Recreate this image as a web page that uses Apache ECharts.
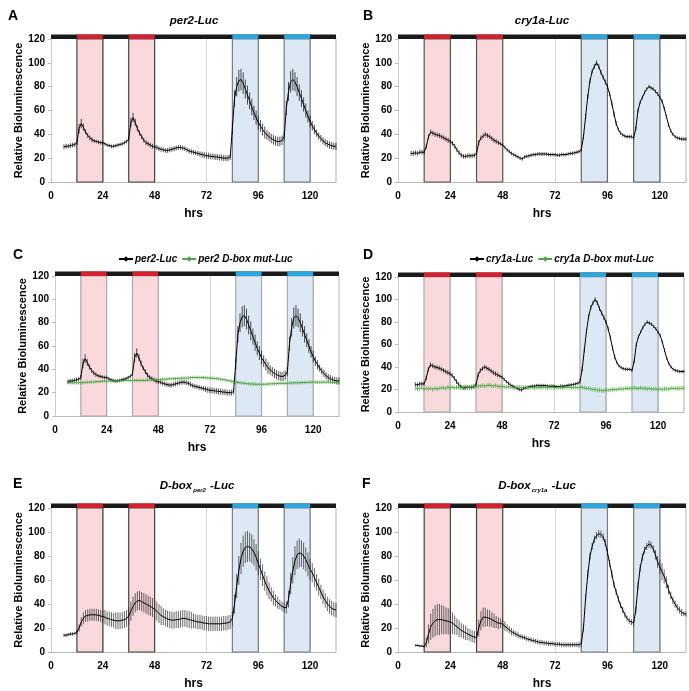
<!DOCTYPE html>
<html><head><meta charset="utf-8">
<script src="https://cdn.jsdelivr.net/npm/echarts@6/dist/echarts.min.js"></script>
<style>html,body{margin:0;padding:0;background:#fff}#c{width:689px;height:691px}</style>
</head><body><div id="c"></div>
<script>
// ---------- data ----------
const xTicks = [0, 24, 48, 72, 96, 120];
const yTicks = [0, 20, 40, 60, 80, 100, 120];
const redPulses = [[12, 24], [36, 48]];
const bluePulses = [[84, 96], [108, 120]];

// per2-Luc, hourly from 6 h
const per2Start = 6;
const per2 = [
  29.5,30,30,30.5,31,31.5,33,45,49,46,
  42,39,37,35.5,34.5,34,33.5,33,33,32,
  31,30.5,30,30,30.5,31,31.5,32,33,34,
  36,50,54,50,45,41,38,35,33,32,
  31,30,29.5,29,28,27.5,27,26.5,26.5,27,
  27.5,28,28.5,29,29,28.5,28,27,26,25.5,
  25,24.5,24,23.5,23,22.5,22,22,21.5,21.5,
  21,21,20.5,20.5,20,20,20,21,45,70,
  80,85,86,83,78,73,68,63,58,54,
  50,47,44,41.5,39.5,38,36.5,35.5,34.5,34,
  34,35,38,62,76,84,86,84,80,75,
  70,65,60,55,51,47,44,41,38.5,36.5,
  34.5,33,32,31,30.5,30,30];
const per2Err = [
  2,2,2,2,2,2,2,4,4,3,
  2,2,2,2,1.5,1.5,1.5,1.5,1.5,1.5,
  1.5,1.5,1.5,1.5,1.5,1.5,1.5,1.5,1.5,1.5,
  2,4,4,3,2.5,2,2,2,2,2,
  2,2,2,2,2,2,2,2,2,2,
  2,2,2,2,2,2,2,2,2,2,
  2,2,2,2,2.5,2.5,2.5,2.5,2.5,2.5,
  2.5,2.5,2.5,2.5,2.5,2.5,2.5,2.5,5,7,
  8,9,9,9,8,8,7,7,6,6,
  6,5,5,5,4,4,4,4,4,4,
  4,4,4,6,8,9,9,8,8,7,
  7,6,6,5,5,4,4,3,3,3,
  3,3,3,3,3,3,3];

// cry1a-Luc, hourly from 6 h
const cry1aStart = 6;
const cry1a = [
  24,24,24.5,24,25,25,25,30,38,42,
  41,40,39.5,39,38,37,36,35,34,32.5,
  30,27,24.5,22.5,21.5,21.5,22,22,22,22.5,
  24,33,37,38.5,40,39,38,36.5,35,34,
  33,32,31,29,27,25.5,24,23,22,21,
  20,19.5,21,21.5,22,22.5,23,23,23.5,23.5,
  23.5,23.5,23.5,23,23,23,23,22.5,22.5,23,
  23,23,23.5,24,24,24.5,25,25.5,27,38,
  55,72,85,93,97,100,97,92,88,84,
  80,74,66,57,49,44,41,39.5,38.5,38,
  38,38,37,45,60,67,71,75,78,80,
  79,78,76,74,71,68,62,55,48,43,
  40,38,37,36.5,36,36,36];
const cry1aErr = [
  2,2,2,2,2,2,2,2,2,2,
  2,2,2,2,2,2,2,2,2,2,
  2,2,2,2,2,2,2,2,2,2,
  2,2,2,2,2,2,2,2,2,2,
  2,1.5,1.5,1.5,1.5,1.5,1.5,1.5,1.5,1.5,
  1.5,1.5,1.5,1.5,1.5,1.5,1.5,1.5,1.5,1.5,
  1.5,1.5,1.5,1.5,1.5,1.5,1.5,1.5,1.5,1.5,
  1.5,1.5,1.5,1.5,1.5,1.5,1.5,1.5,2,2,
  2,2,2,2,2,2,2,2,2,2,
  2,2,2,2,2,1.5,1.5,1.5,1.5,1.5,
  1.5,1.5,1.5,1.5,1.5,1.5,1.5,1.5,1.5,1.5,
  1.5,1.5,1.5,1.5,1.5,1.5,1.5,1.5,1.5,1.5,
  1.5,1.5,1.5,1.5,1.5,1.5,1.5];

// per2 D-box mut-Luc, hourly from 6 h
const per2MutStart = 6;
const per2Mut = [
  28.5,28.5,28.5,28.5,28.5,28.5,28.5,28.5,28.8,29,
  29,29,29.2,29.4,29.5,29.6,29.8,30,30,30,
  30,30,30,30,30,30.2,30.4,30.5,30.5,30.5,
  30.5,30.5,30.5,30.5,30.5,30.5,30.6,30.8,31,31,
  31,31,31,31.2,31.4,31.5,31.6,31.8,32,32,
  32,32.2,32.3,32.5,32.5,32.5,32.6,32.8,33,33,
  33,33,33,33,32.8,32.6,32.5,32.4,32.2,32,
  31.8,31.5,31.2,31,30.6,30.2,29.8,29.4,29,28.8,
  28.5,28.2,28,27.8,27.6,27.5,27.4,27.3,27.2,27.2,
  27.2,27.2,27.3,27.4,27.5,27.6,27.7,27.8,27.9,28,
  28,28,28.1,28.2,28.3,28.4,28.5,28.5,28.5,28.6,
  28.7,28.8,28.9,29,29,29,29,29,29,29,
  29,29,29,29,29,29,29];
const per2MutErr = 1.5;

// cry1a D-box mut-Luc, hourly from 8 h
const cry1aMutStart = 8;
const cry1aMut = [
  21,20.5,21,21.5,20,21,20.5,21,20,21,
  20.5,21,21.5,21.5,21,22,21.5,22,21.5,22,
  22,21.5,22,22.5,22,22,22.5,23,22.5,23,
  23,23.5,23,23.5,24,23.5,23,23.5,23,22.5,
  23,22.5,22,22.5,22,22,21.5,22,22,21.5,
  22,22,21.5,22,22,21.5,22,22,21.5,22,
  22,21.5,22,22,21.5,22,22,22,21.5,22,
  22,22,21.5,22,22,21.5,22,22,21.5,21,
  21,20.5,20,20,19.5,19.5,19,19,19.5,19.5,
  19.5,20,20,20,20.5,20.5,20.5,21,21,21,
  21,21.5,21,21,21.5,21,21,20.5,21,20.5,
  20.5,20.5,20,20.5,20,20.5,20.5,20.5,21,21,
  21,21,21,21,21.5];
const cry1aMutErr = 2;

// D-box(per2)-Luc, hourly from 6 h
const dboxPer2Start = 6;
const dboxPer2 = [
  14,14,14.5,15,15,15.5,16.5,20,25,28,
  30,30.5,31,31,31,31,30.5,30,29.5,29,
  28,27.5,27,26.5,26,26,26,26.5,27,28,
  30,34,38,41,42.5,43,42,41,40,39,
  38,37,35.5,34,32,30.5,29.5,28.5,27.5,27,
  26.5,26.5,27,27,27.5,28,28,27.5,27,26.5,
  26,25.5,25,25,24.5,24,24,23.5,23.5,23.5,
  23.5,23.5,23.5,23.5,24,24,24.5,25,28,40,
  55,68,78,84,87,88,87.5,86,83,79,
  74,69,64,59,55,51,48,45,43,41,
  39.5,38,37,37,44,57,68,76,81,82.5,
  82,80,77,73,69,66,62,58,54,50,
  46,43,40,38,36.5,35.5,35];
const dboxPer2Err = [
  1.5,1.5,1.5,1.5,1.5,1.5,2,3,4,5,
  5,5,5,5,5,5,5,5,5,6,
  6,6,6,6,7,7,7,7,7,7,
  7,8,8,8,8,8,8,8,8,8,
  8,8,8,8,8,8,7,7,7,7,
  7,7,7,7,7,7,7,7,7,7,
  6,6,6,6,6,6,6,6,6,6,
  6,6,6,6,6,6,6,6,6,8,
  10,12,13,13,13,13,12,12,11,11,
  10,9,9,8,8,7,6,6,5,5,
  4,4,4,5,7,9,11,12,12,12,
  11,11,10,10,9,8,8,7,7,6,
  6,6,6,6,6,6,6];

// D-box(cry1a)-Luc, hourly from 8 h
const dboxCry1aStart = 8;
const dboxCry1a = [
  5.5,5.5,5,5,4.5,8,15,21,24,26,
  27,27,27,26.5,26,25.5,25,24,22.5,21,
  19.5,18,17,16,15,14,13,12.5,12,20,
  26,29,29,28.5,28,27,26,25,24,24,
  23,21.5,20,18.5,17,16,15,14,13,12.5,
  12,11,10.5,10,9.5,9,8.5,8,8,7.5,
  7.5,7,7,7,6.5,6.5,6.5,6,6,6,
  6,6,6,6,6,6,7,20,45,65,
  80,88,94,97,98.5,98,96,91,83,74,
  65,56,50,44,39,35,31,28,26,25,
  24,35,55,70,79,85,88,90,89,86,
  81,75,71,67,63,58,52,47,43,40,
  37,35,33,32,31.5];
const dboxCry1aErr = [
  1,1,1,1,1,4,8,11,12,13,
  13,13,12,12,11,11,10,9,8,7,
  7,6,6,6,5,5,5,5,5,7,
  8,8,8,7,7,6,6,5,5,4,
  4,4,3,3,3,2.5,2.5,2.5,2,2,
  2,2,2,2,2,2,2,2,2,2,
  2,2,2,2,2,2,2,2,2,2,
  2,2,2,2,2,2.5,3,3,3,3,
  3,3,3,3,3,3,3,3,3,3,
  3,2.5,2.5,2.5,2.5,2.5,2.5,2.5,2.5,2.5,
  2.5,3,3,3,3,3,3,3,3,3,
  4,5,6,7,6,5,4,3,3,3,
  3,3,3,2,2];

// ---------- styling / layout ----------
const FONT = '"Liberation Sans", Arial, sans-serif';
const BLACK = '#000';
const GREEN = '#4fa545';
const panels = [
  {letter:'A', lx:8, ly:9, grid:{left:51, top:39, width:285, height:143}, title:'{i|per2-Luc}', tx:194, ty:20,
   bandStroke:['#444','#7a7a7a'],
   series:[{name:'per2-Luc', start:per2Start, values:per2, err:per2Err, color:BLACK, errColor:'rgba(20,20,20,0.75)'}]},
  {letter:'B', lx:363, ly:9, grid:{left:398, top:39, width:288, height:143}, title:'{i|cry1a-Luc}', tx:542, ty:20,
   bandStroke:['#555','#666'],
   series:[{name:'cry1a-Luc', start:cry1aStart, values:cry1a, err:cry1aErr, color:BLACK, errColor:'rgba(20,20,20,0.75)'}]},
  {letter:'C', lx:13, ly:248, grid:{left:55, top:276, width:284, height:140}, legend:{left:113, top:249},
   bandStroke:['#aaa','#aaa'],
   series:[{name:'per2-Luc', start:per2Start, values:per2, err:per2Err, color:BLACK, errColor:'rgba(20,20,20,0.75)'},
           {name:'per2 D-box mut-Luc', start:per2MutStart, values:per2Mut, err:per2MutErr, color:GREEN, errColor:'rgba(95,180,85,0.8)'}]},
  {letter:'D', lx:363, ly:248, grid:{left:398, top:277, width:286, height:135}, legend:{left:464, top:249},
   bandStroke:['#aaa','#aaa'],
   series:[{name:'cry1a-Luc', start:cry1aMutStart, values:cry1a.slice(cry1aMutStart - cry1aStart), err:cry1aErr.slice(cry1aMutStart - cry1aStart), color:BLACK, errColor:'rgba(20,20,20,0.75)'},
           {name:'cry1a D-box mut-Luc', start:cry1aMutStart, values:cry1aMut, err:cry1aMutErr, color:GREEN, errColor:'rgba(95,180,85,0.8)'}]},
  {letter:'E', lx:13, ly:477, grid:{left:51, top:508, width:285, height:144}, title:'{i|D-box}{s|per2}{i| -Luc}', tx:197, ty:485,
   bandStroke:['#444','#7a7a7a'],
   series:[{name:'D-box per2-Luc', start:dboxPer2Start, values:dboxPer2, err:dboxPer2Err, color:BLACK, errColor:'rgba(40,40,40,0.7)'}]},
  {letter:'F', lx:362, ly:477, grid:{left:398, top:508, width:288, height:144}, title:'{i|D-box}{s|cry1a}{i| -Luc}', tx:537, ty:485,
   bandStroke:['#444','#7a7a7a'],
   series:[{name:'D-box cry1a-Luc', start:dboxCry1aStart, values:dboxCry1a, err:dboxCry1aErr, color:BLACK, errColor:'rgba(40,40,40,0.7)'}]}
];

const X_MIN = 0, X_MAX = 132, Y_MIN = 0, Y_MAX = 120;

function toPoints(s) {
  return s.values.map((v, i) => [s.start + i, v]);
}
function toErr(s) {
  return s.values.map((v, i) => [s.start + i, v, Array.isArray(s.err) ? s.err[i] : s.err]);
}

const option = {
  animation: false,
  backgroundColor: '#fff',
  textStyle: {fontFamily: FONT},
  grid: [], xAxis: [], yAxis: [], series: [], legend: [], graphic: []
};

const bands = redPulses.map(p => [p[0], p[1], 0]).concat(bluePulses.map(p => [p[0], p[1], 1]));
const topBar = [[X_MIN, X_MAX, 2]].concat(bands);

panels.forEach((p, gi) => {
  option.grid.push(Object.assign({containLabel: false}, p.grid));
  option.xAxis.push({
    type: 'value', gridIndex: gi, min: X_MIN, max: X_MAX, interval: 24,
    name: 'hrs', nameLocation: 'middle', nameGap: 26,
    nameTextStyle: {fontFamily: FONT, fontWeight: 'bold', fontSize: 12, color: BLACK},
    axisLine: {show: true, lineStyle: {color: '#bbb', width: 1}},
    axisTick: {show: false},
    splitLine: {show: true, lineStyle: {color: '#d8d8d8', width: 1}},
    axisLabel: {fontFamily: FONT, fontWeight: 'bold', fontSize: 10, color: BLACK, margin: 9,
      showMaxLabel: false, formatter: v => (xTicks.indexOf(v) >= 0 ? String(v) : '')}
  });
  option.yAxis.push({
    type: 'value', gridIndex: gi, min: Y_MIN, max: Y_MAX, interval: 20,
    name: 'Relative Bioluminescence', nameLocation: 'middle', nameGap: 26,
    nameTextStyle: {fontFamily: FONT, fontWeight: 'bold', fontSize: 11, color: BLACK},
    axisLine: {show: true, lineStyle: {color: '#ccc', width: 1}},
    axisTick: {show: true, length: 3, lineStyle: {color: '#bbb'}},
    splitLine: {show: false},
    axisLabel: {fontFamily: FONT, fontWeight: 'bold', fontSize: 10, color: BLACK, margin: 6,
      formatter: v => (yTicks.indexOf(v) >= 0 ? String(v) : '')}
  });
  // light-pulse bands
  option.series.push({
    type: 'custom', xAxisIndex: gi, yAxisIndex: gi, z: 1, silent: true,
    data: bands,
    renderItem: (params, api) => {
      const a = api.coord([api.value(0), Y_MAX]);
      const b = api.coord([api.value(1), Y_MIN]);
      const blue = api.value(2) === 1;
      return {type: 'rect', shape: {x: a[0], y: a[1], width: b[0] - a[0], height: b[1] - a[1]},
        style: {fill: blue ? '#dce8f4' : '#f9d9dc', stroke: p.bandStroke[blue ? 1 : 0], lineWidth: 1.2}};
    }
  });
  // right frame edge line (at axis max)
  option.series.push({
    type: 'custom', xAxisIndex: gi, yAxisIndex: gi, z: 1, silent: true,
    data: [[X_MAX]],
    renderItem: (params, api) => {
      const a = api.coord([api.value(0), Y_MAX]);
      const b = api.coord([api.value(0), Y_MIN]);
      return {type: 'line', shape: {x1: a[0] - 0.5, y1: a[1], x2: b[0] - 0.5, y2: b[1]},
        style: {stroke: '#d8d8d8', lineWidth: 1}};
    }
  });
  // data series
  p.series.forEach(s => {
    option.series.push({
      type: 'custom', xAxisIndex: gi, yAxisIndex: gi, z: 3, silent: true,
      data: toErr(s),
      renderItem: (params, api) => {
        const x = api.value(0), y = api.value(1), e = api.value(2);
        const lo = api.coord([x, y - e]), hi = api.coord([x, y + e]);
        return {type: 'line', shape: {x1: lo[0], y1: lo[1], x2: hi[0], y2: hi[1]},
          style: {stroke: s.errColor, lineWidth: 1}};
      }
    });
    option.series.push({
      type: 'line', name: s.name, xAxisIndex: gi, yAxisIndex: gi, z: 4,
      data: toPoints(s), showSymbol: false, symbol: 'diamond', symbolSize: 5,
      itemStyle: {color: s.color}, lineStyle: {color: s.color, width: 1}, silent: true
    });
  });
  // top light-schedule bar
  option.series.push({
    type: 'custom', xAxisIndex: gi, yAxisIndex: gi, z: 6, silent: true,
    data: topBar,
    renderItem: (params, api) => {
      const a = api.coord([api.value(0), Y_MAX]);
      const b = api.coord([api.value(1), Y_MAX]);
      const k = api.value(2);
      const fill = k === 2 ? '#1a1a1a' : (k === 1 ? '#29a8e0' : '#d7202d');
      return {type: 'rect', shape: {x: a[0], y: a[1] - 4.5, width: b[0] - a[0], height: 4.5},
        style: {fill: fill}};
    }
  });
  if (p.legend) {
    option.legend.push({
      left: p.legend.left, top: p.legend.top, orient: 'horizontal',
      itemWidth: 14, itemHeight: 7, itemGap: 4,
      data: p.series.map(s => s.name),
      textStyle: {fontFamily: FONT, fontStyle: 'italic', fontWeight: 'bold', fontSize: 10, color: BLACK, padding: [0, 0, 0, -3]}
    });
  }
  option.graphic.push({
    type: 'text', left: p.lx, top: p.ly,
    style: {text: p.letter, font: 'bold 14px ' + FONT, fill: BLACK}
  });
  if (p.title) {
    option.graphic.push({
      type: 'text', x: p.tx, y: p.ty + 1,
      style: {text: p.title, fill: BLACK, align: 'center', verticalAlign: 'middle',
        textAlign: 'center', textVerticalAlign: 'middle',
        rich: {
          i: {font: 'italic bold 11.5px ' + FONT, fill: BLACK, lineHeight: 14, verticalAlign: 'middle'},
          s: {font: 'italic bold 6px ' + FONT, fill: BLACK, lineHeight: 14, verticalAlign: 'bottom', padding: [0, 1, 0, 1]}
        }}
    });
  }
});

const chart = echarts.init(document.getElementById('c'), null, {renderer: 'canvas'});
chart.setOption(option);
</script>
</body></html>
